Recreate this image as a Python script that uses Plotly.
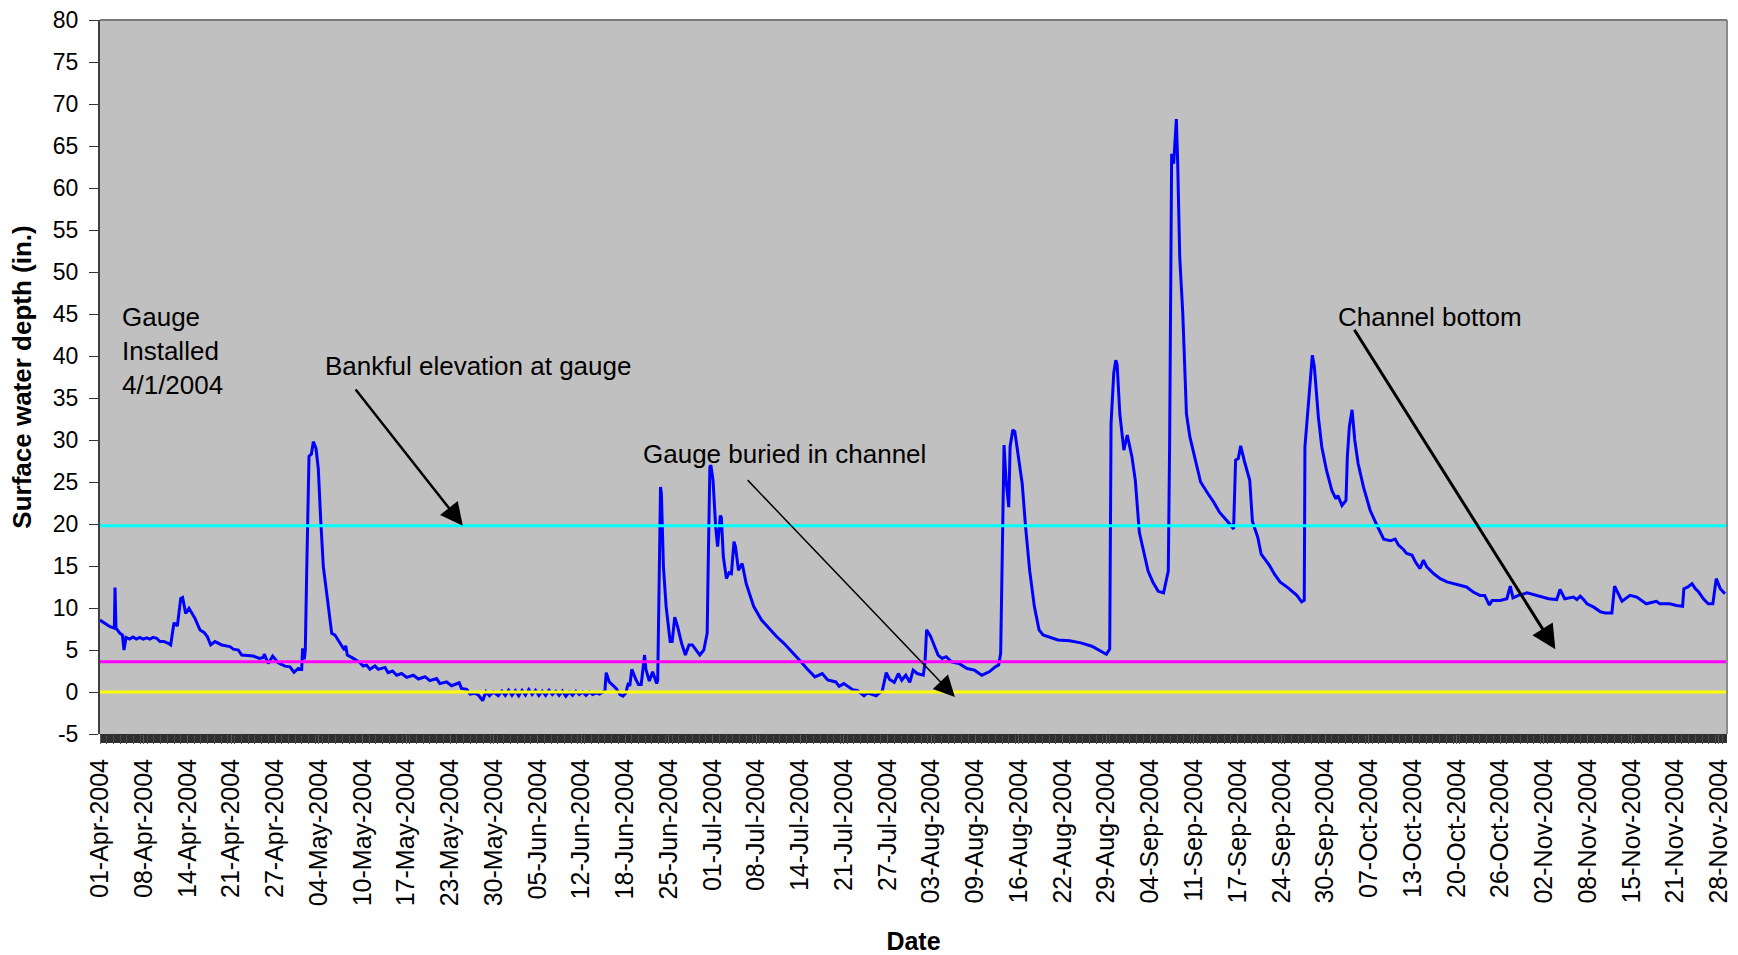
import pandas as pd
import plotly.graph_objects as go

# Gauge record: elapsed days after 2004-04-01 00:00 and surface water depth (in.)
elapsed_days = [
    0.5, 1.24, 1.99, 2.63, 2.73, 2.88, 3.47, 3.82, 4.07, 4.36, 4.9, 5.4, 5.9, 6.4, 6.9, 7.44, 7.9, 8.4,
    8.92, 9.41, 10.0, 10.65, 11.0, 11.49, 11.99, 12.49, 12.77, 13.23, 13.72, 14.61, 15.36, 15.95, 16.44,
    16.94, 17.58, 18.58, 19.81, 20.3, 21.05, 21.55, 22.4, 23.28, 24.2, 24.76, 24.9, 25.5, 26.15, 26.99,
    27.98, 28.73, 29.32, 29.96, 30.46, 30.6, 30.85, 31.0, 31.2, 31.55, 31.9, 32.19, 32.59, 32.93, 33.29,
    33.68, 34.18, 34.77, 34.92, 35.41, 36.16, 36.8, 37.0, 37.24, 38.13, 39.13, 39.6, 40.1, 40.6, 41.35,
    41.84, 42.84, 43.3, 43.96, 44.57, 45.3, 46.06, 47.05, 47.8, 48.78, 49.5, 50.5, 51.0, 51.98, 52.74,
    53.86, 54.2, 54.98, 55.48, 56.2, 56.7, 57.35, 57.85, 58.35, 58.94, 59.67,
    60.2, 60.7, 61.2, 61.7, 62.2, 62.7, 63.2, 63.7, 64.2, 64.7, 65.2, 65.7, 66.2, 66.7, 67.2, 67.7, 68.2,
    68.7, 69.2, 69.7, 70.2, 70.7, 71.2, 71.7, 72.2, 72.7, 73.2, 73.7, 74.2, 74.7, 75.2, 75.5, 75.7, 76.15,
    76.7, 77.2, 77.76, 78.2, 78.6, 79.0, 79.2, 79.5, 80.1, 80.5, 80.9, 81.4, 81.6, 82.1, 82.6, 83.2, 83.35,
    83.5, 83.77, 83.9, 84.2, 84.6, 85.2, 85.5, 85.88, 86.3, 86.9, 87.46, 88.0, 88.5, 89.1, 89.6, 90.2, 90.7,
    90.83, 91.1, 91.25, 91.57, 91.96, 92.25, 92.65, 92.8, 93.1, 93.56, 93.95, 94.3, 94.68, 94.9, 95.35,
    95.9, 96.5, 97.6, 98.75, 99.9, 101.0, 102.1, 103.3, 104.4, 105.5, 106.7, 107.8, 108.6, 109.8, 110.3,
    111.0, 112.3, 113.0, 114.0, 114.5, 115.1, 115.8, 116.3, 116.7, 117.3, 117.8, 118.5, 119.1, 119.6,
    120.2, 120.8, 121.3, 121.9, 122.8, 123.05, 123.3, 123.9, 124.45, 125.0, 125.6, 126.2, 127.0, 128.1,
    129.3, 130.4, 131.5, 132.6, 133.5, 134.0, 134.3, 134.6, 134.8, 135.1, 135.5, 135.7, 136.1, 136.4,
    136.9, 137.5, 138.0, 138.6, 139.3, 140.0, 140.6, 141.7, 142.8, 144.55, 146.2, 147.85, 149.2, 150.0,
    150.5, 150.55, 150.7, 151.1, 151.4, 151.6, 152.0, 152.6, 153.1, 153.8, 154.3, 154.9, 155.6, 156.2,
    156.9, 157.7, 158.5, 158.9, 159.2, 159.4, 159.7, 160.0, 160.4, 160.6, 160.9, 161.35, 161.9, 162.4,
    163.4, 164.0, 165.1, 165.95, 166.8, 167.6, 168.4, 168.9, 169.2, 169.6, 169.95, 170.6, 171.3, 171.7,
    172.5, 173.0, 174.2, 175.0, 175.8, 177.0, 178.3, 179.0, 179.4, 179.5, 180.2, 180.6, 180.9, 181.5,
    182.0, 182.7, 183.5, 184.1, 184.4, 185.0, 185.6, 185.8, 186.1, 186.5, 186.9, 187.4, 188.2, 189.2,
    190.2, 191.2, 192.2, 192.9, 193.4, 194.1, 194.6, 195.4, 195.9, 196.6, 197.1, 197.6, 198.6, 199.6,
    200.6, 201.6, 202.55, 203.5, 204.5, 205.5, 206.2, 206.9, 207.3, 208.5, 209.5, 210.0, 210.4, 211.2,
    212.5, 214.4, 215.7, 216.9, 217.4, 218.1, 219.4, 219.9, 220.4, 220.9, 221.4, 222.4, 223.4, 224.1,
    225.1, 225.5, 226.1, 226.6, 227.8, 228.8, 230.2, 231.7, 232.2, 233.7, 234.7, 235.6, 235.8, 236.4,
    237.0, 237.5, 238.0, 238.7, 239.4, 240.1, 240.6, 241.2, 241.9,
]
depth_in = [
    8.56, 8.17, 7.77, 7.6, 12.45, 7.6, 6.98, 6.8, 5.0, 6.5, 6.3, 6.55, 6.3, 6.5, 6.3, 6.45, 6.3, 6.5,
    6.4, 6.0, 6.0, 5.8, 5.6, 8.25, 7.85, 11.14, 11.26, 9.36, 9.96, 8.77, 7.38, 7.1, 6.6,
    5.6, 6.0, 5.6, 5.4, 5.1, 5.0, 4.4, 4.3, 4.28, 4.0, 4.1, 4.5, 3.39, 4.28, 3.47,
    3.08, 3.0, 2.34, 2.82, 2.7, 5.2, 3.9, 5.0, 14.1, 28.07, 28.3, 29.8, 29.0, 26.6, 20.46,
    14.9, 11.74, 8.17, 6.98, 6.78, 5.8, 5.0, 5.5, 4.4, 4.0, 3.5, 3.1, 3.2, 2.7, 3.1,
    2.7, 2.93, 2.3, 2.5, 2.0, 2.2, 1.74, 2.0, 1.55, 1.82, 1.35, 1.6, 1.0, 1.2, 0.75,
    1.1, 0.43, 0.32, -0.24, -0.16, -0.36, -1.03, 0.04, -0.44, 0.0, -0.44,
    0.1, -0.4, 0.2, -0.4, 0.15, -0.45, 0.2, -0.35, 0.3, -0.3, 0.2, -0.4, 0.1, -0.4, 0.2, -0.3, 0.1,
    -0.4, 0.1, -0.5, 0.0, -0.4, 0.1, -0.3, 0.0, -0.4, 0.0, -0.3, -0.1, -0.25, 0.0, 0.08, 2.3, 1.2,
    0.8, 0.4, -0.3, -0.5, -0.12, 1.07, 0.7, 2.7, 1.5, 0.9, 0.9, 4.4, 2.7, 1.3, 2.4, 1.0, 1.4,
    9.36, 24.4, 23.6, 14.9, 10.2, 6.0, 6.0, 8.9, 7.8, 5.8, 4.4, 5.6, 5.6, 5.0, 4.4, 5.0, 7.0,
    14.1, 26.8, 27.0, 25.2, 19.66, 17.3, 21.0, 20.8, 16.1, 13.5, 14.2, 14.1, 17.9, 17.3, 14.5,
    15.3, 12.9, 10.2, 8.6, 7.6, 6.6, 5.8, 4.8, 3.8, 2.8, 1.8, 2.2, 1.43, 1.2, 0.67,
    1.0, 0.28, 0.2, -0.44, -0.1, -0.3, -0.44, -0.1, 0.08, 2.3, 1.5, 1.15, 2.2, 1.4,
    2.0, 1.15, 2.6, 2.2, 2.0, 3.4, 7.4, 6.6, 5.4, 4.4, 4.0, 4.2, 3.6, 3.4,
    2.8, 2.6, 2.0, 2.4, 3.0, 3.2, 4.6, 20.0, 29.4, 25.2, 22.0, 29.2, 31.2, 31.0,
    28.4, 24.8, 19.66, 14.5, 10.2, 7.4, 6.8, 6.5, 6.2, 6.1, 5.85, 5.45, 4.8, 4.5,
    5.1, 20.0, 32.0, 38.0, 39.5, 39.0, 33.1, 28.8, 30.6, 28.0, 25.2, 19.0, 16.4, 14.4,
    13.1, 12.0, 11.8, 13.3, 14.4, 29.6, 64.07, 62.9, 68.2, 62.9, 51.8, 45.1, 33.1, 30.4,
    27.2, 25.0, 23.6, 22.6, 21.4, 20.7, 19.95, 19.4, 27.6, 27.8, 29.3, 27.2, 25.2, 20.3,
    18.4, 16.4, 15.1, 14.0, 13.1, 12.4, 11.5, 10.74, 10.9, 29.2, 36.7, 40.1, 38.7, 32.7,
    29.2, 26.4, 24.0, 23.0, 23.4, 22.2, 22.8, 28.0, 31.6, 33.6, 30.0, 27.2, 24.4, 21.6,
    19.85, 18.2, 18.0, 18.2, 17.5, 17.0, 16.5, 16.3, 15.5, 14.7, 15.7, 14.9, 14.1, 13.5,
    13.1, 12.9, 12.7, 12.5, 11.9, 11.5, 11.5, 10.35, 10.9, 10.9, 11.1, 12.6, 11.2, 11.5,
    11.8, 11.4, 11.1, 11.0, 12.2, 11.1, 11.3, 11.0, 11.4, 11.0, 10.5, 10.1, 9.55, 9.4,
    9.4, 12.6, 11.5, 10.8, 11.5, 11.3, 10.5, 10.8, 10.5, 10.5, 10.3, 10.2, 12.3, 12.5,
    12.9, 12.3, 11.9, 11.1, 10.5, 10.5, 13.5, 12.3, 11.7,
]

# Reference elevations (in.)
BANKFUL_ELEVATION = 19.8
CHANNEL_BOTTOM = 3.6
GAUGE_ZERO = 0.0

# Depth axis ticks
y_tick_vals = [-5, 0, 5, 10, 15, 20, 25, 30, 35, 40, 45, 50, 55, 60, 65, 70, 75, 80]
y_tick_labels = ["-5", "0", "5", "10", "15", "20", "25", "30", "35", "40", "45", "50", "55",
                 "60", "65", "70", "75", "80"]

# Date labels along the bottom axis, one every 6.5 days starting at noon on 1 April
tick_labels = [
    "01-Apr-2004", "08-Apr-2004", "14-Apr-2004", "21-Apr-2004", "27-Apr-2004", "04-May-2004",
    "10-May-2004", "17-May-2004", "23-May-2004", "30-May-2004", "05-Jun-2004", "12-Jun-2004",
    "18-Jun-2004", "25-Jun-2004", "01-Jul-2004", "08-Jul-2004", "14-Jul-2004", "21-Jul-2004",
    "27-Jul-2004", "03-Aug-2004", "09-Aug-2004", "16-Aug-2004", "22-Aug-2004", "29-Aug-2004",
    "04-Sep-2004", "11-Sep-2004", "17-Sep-2004", "24-Sep-2004", "30-Sep-2004", "07-Oct-2004",
    "13-Oct-2004", "20-Oct-2004", "26-Oct-2004", "02-Nov-2004", "08-Nov-2004", "15-Nov-2004",
    "21-Nov-2004", "28-Nov-2004",
]
LABEL_START_DAYS = 0.5
LABEL_STEP_DAYS = 6.5
AXIS_START_DAYS = 0.5
AXIS_END_DAYS = 242.2

ORIGIN = pd.Timestamp("2004-04-01")


def at(days):
    return (ORIGIN + pd.Timedelta(days=days)).strftime("%Y-%m-%d %H:%M:%S")


times = [at(d) for d in elapsed_days]
tick_vals = [at(LABEL_START_DAYS + k * LABEL_STEP_DAYS) for k in range(len(tick_labels))]
x_lo, x_hi = at(AXIS_START_DAYS), at(AXIS_END_DAYS)

FONT = "Liberation Sans, Arial, Helvetica, sans-serif"

fig = go.Figure()
fig.add_trace(go.Scatter(x=times, y=depth_in, mode="lines",
                         line=dict(color="#0000FF", width=3), hoverinfo="skip"))
for level, colour in [(GAUGE_ZERO, "#FFFF00"), (CHANNEL_BOTTOM, "#FF00FF"), (BANKFUL_ELEVATION, "#00FFFF")]:
    fig.add_trace(go.Scatter(x=[x_lo, x_hi], y=[level, level], mode="lines",
                             line=dict(color=colour, width=3), hoverinfo="skip"))

# Text boxes
text_style = dict(showarrow=False, xanchor="left", yanchor="middle", align="left",
                  font=dict(family=FONT, size=26, color="black"))
fig.add_annotation(x=at(3.43), y=40.6, text="Gauge<br>Installed<br>4/1/2004", **text_style)
fig.add_annotation(x=at(33.7), y=38.8, text="Bankful elevation at gauge", **text_style)
fig.add_annotation(x=at(80.8), y=28.3, text="Gauge buried in channel", **text_style)
fig.add_annotation(x=at(184.1), y=44.6, text="Channel bottom", **text_style)

# Pointer arrows (tail -> tip)
arrows = [
    (38.3, 36.2, 54.4, BANKFUL_ELEVATION, 2.5, 1.8),
    (96.5, 25.4, 127.5, -0.6, 1.5, 2.8),
    (186.7, 43.3, 216.7, 5.1, 3.0, 1.6),
]
for d0, v0, d1, v1, w, size in arrows:
    fig.add_annotation(x=at(d1), y=v1, ax=at(d0), ay=v0, xref="x", yref="y", axref="x", ayref="y",
                       text="", showarrow=True, arrowhead=2, arrowsize=size, arrowwidth=w,
                       arrowcolor="black", standoff=0)

# Dark tick band under the plot, and the grey plot-area frame
fig.add_shape(type="rect", xref="paper", yref="paper", x0=0, x1=1, y0=-9 / 714, y1=0,
              fillcolor="#2e2e2e", line=dict(width=0), layer="below")
fig.add_shape(type="line", xref="paper", yref="paper", x0=0, x1=1, y0=1, y1=1,
              line=dict(color="#7a7a7a", width=2), layer="above")
fig.add_shape(type="line", xref="paper", yref="paper", x0=1, x1=1, y0=0, y1=1,
              line=dict(color="#8a8a8a", width=2), layer="above")

fig.update_layout(
    width=1738, height=955,
    margin=dict(l=100, r=11, t=20, b=221),
    paper_bgcolor="white", plot_bgcolor="#C0C0C0",
    showlegend=False,
    font=dict(family=FONT, color="black"),
    xaxis=dict(
        type="date", range=[x_lo, x_hi], tickmode="array", tickvals=tick_vals, ticktext=tick_labels,
        tickangle=-90, tickfont=dict(size=25), ticks="outside", ticklen=9, tickcolor="#5a5a5a",
        ticklabelstandoff=5, showgrid=False, zeroline=False, showline=False, automargin=False,
        minor=dict(ticks="outside", ticklen=9, tickcolor="#4a4a4a", tickwidth=1,
                   dtick=86400000, tick0=at(0.5)),
        title=dict(text="<b>Date</b>", font=dict(size=25), standoff=29),
    ),
    yaxis=dict(
        range=[-5, 80], tickmode="array", tickvals=y_tick_vals, ticktext=y_tick_labels,
        tickfont=dict(size=23),
        ticks="outside", ticklen=9, tickcolor="#333333", ticklabelstandoff=6,
        showgrid=False, zeroline=False, showline=True, linecolor="#404040", linewidth=2,
        automargin=False,
        title=dict(text="<b>Surface water depth (in.)</b>", font=dict(size=26), standoff=14),
    ),
)

fig.write_html("out.html")
